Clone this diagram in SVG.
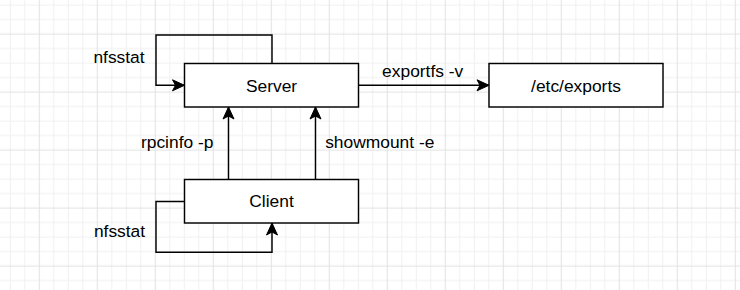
<svg xmlns="http://www.w3.org/2000/svg" width="740" height="290" viewBox="0 0 740 290">
<style>
.node rect{fill:#ffffff;stroke:#000000;stroke-width:1.45}
.node text,.lbl{font-family:"Liberation Sans",Arial,Helvetica,sans-serif;font-size:17.4px;fill:#000000;text-anchor:middle}
.conn path{fill:none;stroke:#000000;stroke-width:1.45;marker-end:url(#arr)}
</style>
<defs>
<pattern id="grid" patternUnits="userSpaceOnUse" x="32.05" y="26.75" width="58" height="58">
<path d="M21.75,0V58M36.25,0V58M50.75,0V58M0,21.75H58M0,36.25H58M0,50.75H58" stroke="#f0f0f0" stroke-width="1" fill="none"/>
<path d="M7.25,0V58M0,7.25H58" stroke="#e1e1e1" stroke-width="1" fill="none"/>
</pattern>
<marker id="arr" markerUnits="userSpaceOnUse" markerWidth="16" markerHeight="16" viewBox="-14 -8 16 16" refX="0" refY="0" orient="auto">
<path d="M0,0L-12,-5.5L-9,0L-12,5.5Z" fill="#000000" stroke="#000000" stroke-width="1"/>
</marker>
</defs>
<rect width="740" height="290" fill="#ffffff"/>
<rect width="740" height="290" fill="url(#grid)"/>
<g id="connectors" class="conn">
<path id="e-server-loop" d="M272,63.5V35H156V85.3H184.5"/>
<path id="e-client-loop" d="M184.5,201.5H156V252.3H272V223"/>
<path id="e-rpcinfo" d="M228.5,179.5V107"/>
<path id="e-showmount" d="M315.5,179.5V107"/>
<path id="e-exportfs" d="M358.5,85.3H489"/>
</g>
<g id="labels">
<text class="lbl" x="119" y="63">nfsstat</text>
<text class="lbl" x="119.5" y="236.5">nfsstat</text>
<text class="lbl" x="177.2" y="148.3">rpcinfo -p</text>
<text class="lbl" x="379.8" y="148.3">showmount -e</text>
<text class="lbl" x="422.7" y="77">exportfs -v</text>
</g>
<g id="server" class="node">
<rect x="184.5" y="63.5" width="174" height="43.5"/>
<text x="271.5" y="91.7">Server</text>
</g>
<g id="exports" class="node">
<rect x="489" y="63.5" width="174" height="43.5"/>
<text x="576" y="91.7">/etc/exports</text>
</g>
<g id="client" class="node">
<rect x="184.5" y="179.5" width="174" height="43.5"/>
<text x="271.5" y="207.3">Client</text>
</g>
</svg>
